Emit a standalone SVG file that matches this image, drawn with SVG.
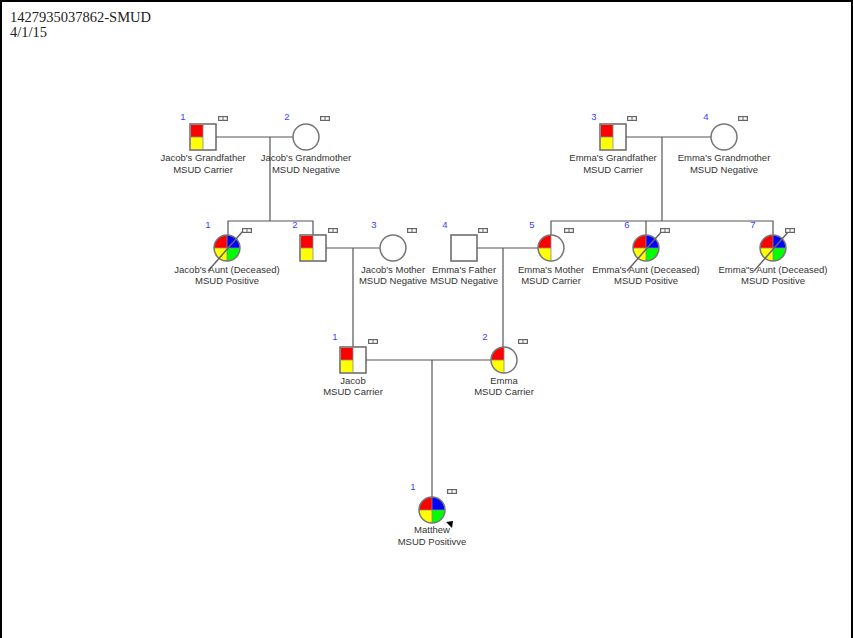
<svg xmlns="http://www.w3.org/2000/svg" xmlns:xlink="http://www.w3.org/1999/xlink" width="853" height="638" viewBox="0 0 853 638">
<style>
.lbl{font-family:"Liberation Sans",Arial,sans-serif;font-size:9.5px;fill:#333;text-anchor:middle}
.num{font-family:"Liberation Sans",Arial,sans-serif;font-size:9.5px;fill:#3c3cff;text-anchor:middle}
.ttl{font-family:"Liberation Serif","Times New Roman",serif;font-size:14.5px;fill:#222}
.con{fill:none;stroke:#555;stroke-width:1.2}
.sq{fill:#fff;stroke:#666;stroke-width:1.5}
.ci{fill:none;stroke:#777;stroke-width:1.5}
.div{stroke:#888;stroke-width:0.8}
.slash{stroke:#666;stroke-width:1.5}
</style>
<defs>
<path id="qtl" d="M0,0 L-13,0 A13,13 0 0 1 0,-13 Z"/>
<path id="qtr" d="M0,0 L0,-13 A13,13 0 0 1 13,0 Z"/>
<path id="qbr" d="M0,0 L13,0 A13,13 0 0 1 0,13 Z"/>
<path id="qbl" d="M0,0 L0,13 A13,13 0 0 1 -13,0 Z"/>
<g id="ic"><rect x="0" y="0" width="10" height="5" fill="#666"/><rect x="1.2" y="1.2" width="3.3" height="2.6" fill="#fff"/><rect x="5.5" y="1.2" width="3.3" height="2.6" fill="#fff"/></g>
<g id="carSq"><rect x="0" y="0" width="26" height="26" class="sq"/><rect x="1" y="1" width="12" height="12" fill="#f00"/><rect x="1" y="13" width="12" height="12" fill="#ff0"/><line x1="13" y1="0" x2="13" y2="26" class="div"/><line x1="0" y1="13" x2="13" y2="13" class="div"/></g>
<g id="carCi"><circle r="13" fill="#fff"/><use xlink:href="#qtl" fill="#f00"/><use xlink:href="#qbl" fill="#ff0"/><line x1="-13" y1="0" x2="0" y2="0" class="div"/><line x1="0" y1="-13" x2="0" y2="13" class="div"/><circle r="13" class="ci"/></g>
<g id="posCi"><use xlink:href="#qtl" fill="#f00"/><use xlink:href="#qtr" fill="#00f"/><use xlink:href="#qbr" fill="#0f0"/><use xlink:href="#qbl" fill="#ff0"/><line x1="-13" y1="0" x2="13" y2="0" class="div"/><line x1="0" y1="-13" x2="0" y2="13" class="div"/><circle r="13" class="ci"/></g>
</defs>
<rect x="0" y="0" width="853" height="638" fill="#fff"/>
<path d="M1,638 V1 H852 V638" fill="none" stroke="#000" stroke-width="2"/>
<text class="ttl" x="10" y="22">1427935037862-SMUD</text>
<text class="ttl" x="10" y="37">4/1/15</text>

<g id="connectors">
<path class="con" d="M216,137 H293"/>
<path class="con" d="M270,137 V221"/>
<path class="con" d="M228,235 V221 H313 V235"/>
<path class="con" d="M626,137 H711"/>
<path class="con" d="M662,137 V221"/>
<path class="con" d="M551,235 V221 H773 V235"/>
<path class="con" d="M646,221 V235"/>
<path class="con" d="M326,248 H380"/>
<path class="con" d="M353,248 V347"/>
<path class="con" d="M477,248 H538"/>
<path class="con" d="M503,248 V347"/>
<path class="con" d="M366,360 H491"/>
<path class="con" d="M432,360 V497"/>
</g>

<g id="n-jgf">
<use xlink:href="#carSq" x="190" y="124"/>
<use xlink:href="#ic" x="218" y="116"/>
<text class="num" x="183" y="120">1</text>
<text class="lbl" x="203" y="161">Jacob's Grandfather</text>
<text class="lbl" x="203" y="173">MSUD Carrier</text>
</g>
<g id="n-jgm">
<circle cx="306" cy="137" r="13" fill="#fff" class="ci"/>
<use xlink:href="#ic" x="320" y="116"/>
<text class="num" x="287" y="120">2</text>
<text class="lbl" x="306" y="161">Jacob's Grandmother</text>
<text class="lbl" x="306" y="173">MSUD Negative</text>
</g>
<g id="n-egf">
<use xlink:href="#carSq" x="600" y="124"/>
<use xlink:href="#ic" x="627" y="116"/>
<text class="num" x="594" y="120">3</text>
<text class="lbl" x="613" y="161">Emma's Grandfather</text>
<text class="lbl" x="613" y="173">MSUD Carrier</text>
</g>
<g id="n-egm">
<circle cx="724" cy="137" r="13" fill="#fff" class="ci"/>
<use xlink:href="#ic" x="738" y="116"/>
<text class="num" x="706" y="120">4</text>
<text class="lbl" x="724" y="161">Emma's Grandmother</text>
<text class="lbl" x="724" y="173">MSUD Negative</text>
</g>

<g id="n-jaunt">
<g transform="translate(227,248)"><use xlink:href="#posCi"/><line x1="-19" y1="23" x2="16" y2="-17" class="slash"/></g>
<use xlink:href="#ic" x="242" y="228"/>
<text class="num" x="208" y="228">1</text>
<text class="lbl" x="227" y="273">Jacob's Aunt (Deceased)</text>
<text class="lbl" x="227" y="284">MSUD Positive</text>
</g>
<g id="n-jfather">
<use xlink:href="#carSq" x="300" y="235"/>
<use xlink:href="#ic" x="328" y="228"/>
<text class="num" x="295" y="228">2</text>
</g>
<g id="n-jmother">
<circle cx="393" cy="248" r="13" fill="#fff" class="ci"/>
<use xlink:href="#ic" x="407" y="228"/>
<text class="num" x="374" y="228">3</text>
<text class="lbl" x="393" y="273">Jacob's Mother</text>
<text class="lbl" x="393" y="284">MSUD Negative</text>
</g>
<g id="n-efather">
<rect x="451" y="235" width="26" height="26" class="sq"/>
<use xlink:href="#ic" x="478" y="228"/>
<text class="num" x="445" y="228">4</text>
<text class="lbl" x="464" y="273">Emma's Father</text>
<text class="lbl" x="464" y="284">MSUD Negative</text>
</g>
<g id="n-emother">
<use xlink:href="#carCi" transform="translate(551,248)"/>
<use xlink:href="#ic" x="564" y="228"/>
<text class="num" x="532" y="228">5</text>
<text class="lbl" x="551" y="273">Emma's Mother</text>
<text class="lbl" x="551" y="284">MSUD Carrier</text>
</g>
<g id="n-eaunt6">
<g transform="translate(646,248)"><use xlink:href="#posCi"/><line x1="-19" y1="23" x2="16" y2="-17" class="slash"/></g>
<use xlink:href="#ic" x="660" y="228"/>
<text class="num" x="627" y="228">6</text>
<text class="lbl" x="646" y="273">Emma's Aunt (Deceased)</text>
<text class="lbl" x="646" y="284">MSUD Positive</text>
</g>
<g id="n-eaunt7">
<g transform="translate(773,248)"><use xlink:href="#posCi"/><line x1="-19" y1="23" x2="16" y2="-17" class="slash"/></g>
<use xlink:href="#ic" x="785" y="228"/>
<text class="num" x="753" y="228">7</text>
<text class="lbl" x="773" y="273">Emma"s Aunt (Deceased)</text>
<text class="lbl" x="773" y="284">MSUD Positive</text>
</g>

<g id="n-jacob">
<use xlink:href="#carSq" x="340" y="347"/>
<use xlink:href="#ic" x="368" y="339"/>
<text class="num" x="335" y="340">1</text>
<text class="lbl" x="353" y="384">Jacob</text>
<text class="lbl" x="353" y="395">MSUD Carrier</text>
</g>
<g id="n-emma">
<use xlink:href="#carCi" transform="translate(504,360)"/>
<use xlink:href="#ic" x="518" y="339"/>
<text class="num" x="485" y="340">2</text>
<text class="lbl" x="504" y="384">Emma</text>
<text class="lbl" x="504" y="395">MSUD Carrier</text>
</g>

<g id="n-matthew">
<use xlink:href="#posCi" transform="translate(432,510)"/>
<use xlink:href="#ic" x="447" y="489"/>
<text class="num" x="413" y="490">1</text>
<text class="lbl" x="432" y="533">Matthew</text>
<text class="lbl" x="432" y="545">MSUD Positivve</text>
<polygon points="446,522 453,521 452,528" fill="#000"/>
</g>
</svg>
